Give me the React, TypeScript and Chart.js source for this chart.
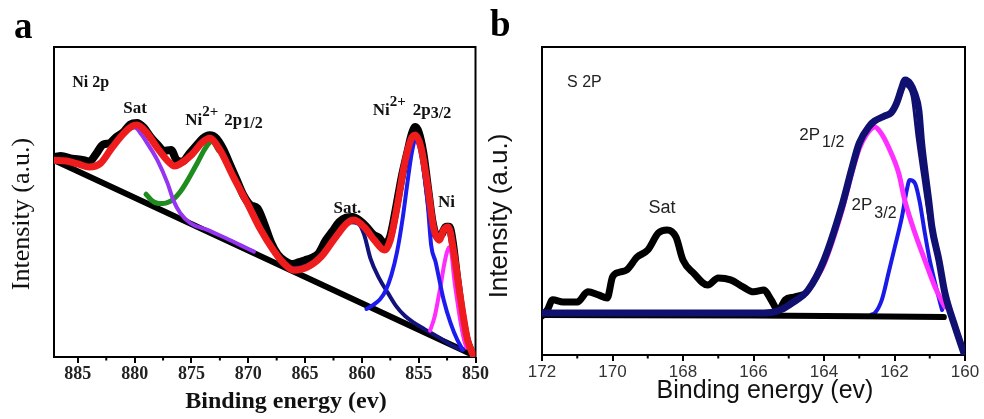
import React, { useEffect, useRef } from 'react';
import { Chart, registerables } from 'chart.js';
Chart.register(...registerables);

type Pt = [number, number];

// ---------- Panel a : Ni 2p ----------
const ticksA = [885, 880, 875, 870, 865, 860, 855, 850];
const minorA = [882.5, 877.5, 872.5, 867.5, 862.5, 857.5, 852.5];

const bgA: Pt[] = [[887.1, 63.5], [850.3, 0.8]];
const rawA: Pt[] = [
  [887.1, 64.5], [886.5, 64.8], [885.5, 64], [884.5, 63.5], [884, 63], [883.4, 65.5], [882.8, 68.5],
  [882.2, 69], [881.6, 71], [881, 72.5], [880.4, 75], [879.8, 75.5], [879.2, 74], [878.6, 71],
  [878, 68.5], [877.4, 66.5], [876.8, 66.8], [876.3, 63.5], [875.8, 63], [875.2, 65.5], [874.5, 68.5],
  [874, 70.5], [873.4, 71.5], [872.8, 70.5], [872.2, 67], [871.6, 62], [871, 57], [870.4, 52],
  [869.8, 49], [869.2, 48], [868.6, 43], [868, 37], [867.4, 33], [866.8, 31], [866.2, 30],
  [865.6, 30.5], [865, 31.2], [864.4, 32], [863.8, 33.5], [863.2, 37.5], [862.6, 40.5], [862, 43.5],
  [861.4, 45], [860.8, 45.2], [860.2, 44], [859.6, 42], [859, 39.5], [858.5, 38.5], [858, 36.5],
  [857.5, 39], [857, 48], [856.5, 58], [856, 66], [855.6, 72], [855.3, 74.2], [855, 72.5],
  [854.6, 66], [854.2, 55], [853.8, 44], [853.4, 39], [853, 39.5], [852.6, 42], [852.3, 42],
  [852, 37], [851.6, 25], [851.2, 14], [850.8, 6], [850.3, 1],
];
const fitA: Pt[] = [
  [887.1, 63.5], [886, 63.2], [885, 62.3], [884, 61.3], [883, 62.5], [882, 67.5], [881, 72],
  [880.3, 74.3], [879.8, 74.8], [879, 72.6], [878, 67.4], [877, 62.9], [876.5, 61.6], [876, 62.3],
  [875, 65.2], [874, 69.4], [873.4, 70.6], [872.5, 66.8], [871.3, 58], [870.1, 49.7], [868.9, 41],
  [867.8, 34.5], [866.9, 30.3], [866, 28], [864.8, 29], [863.6, 32.3], [862.5, 37.7], [861.3, 43.2],
  [860.7, 44.2], [859.8, 41.9], [858.9, 37.7], [858.0, 34.5], [857.5, 37.7], [856.9, 48.4],
  [856.3, 61.3], [855.7, 70], [855.3, 71.6], [854.8, 67.7], [854.2, 54.8], [853.7, 41.9],
  [853.2, 37.7], [852.8, 41], [852.4, 41.9], [851.9, 33.5], [851.3, 18.4], [850.7, 5.5], [850.2, 0.6],
];
const satA: Pt[] = [
  [880.4, 73.8], [880.0, 74.0], [879.4, 71.8], [878.9, 69], [878.0, 63.5], [877.1, 56],
  [876.6, 50.6], [876.0, 46.5], [875.1, 43.2], [873.6, 41], [872.2, 38.7], [870.7, 36.1], [869.5, 34],
];
const p12A: Pt[] = [
  [879.0, 52.5], [878.5, 50.5], [878, 49.6], [877.5, 49.5], [877, 50.0], [876.5, 51.2], [876, 53.2],
  [875.5, 56], [875, 59.2], [874.5, 62.5], [874, 66], [873.5, 68.8], [873.2, 69.5], [872.6, 66.5],
];
const sat2A: Pt[] = [
  [866.5, 28.6], [865, 29.3], [864, 31.5], [863, 35.5], [862, 40.5], [861, 43.5], [860.3, 43],
  [859.8, 39.5], [859.25, 31.8], [858.5, 25.5], [857.7, 20.6], [857, 16.5], [856.2, 13.2],
  [855.4, 11], [854.5, 9], [853.3, 6.5], [852.3, 4.2], [851.3, 2.3],
];
const p32A: Pt[] = [
  [859.6, 15.5], [859, 16.8], [858.4, 18.6], [857.9, 21.5], [857.4, 26.5], [856.9, 34], [856.4, 45],
  [856, 56], [855.6, 66], [855.3, 70], [855, 68.5], [854.6, 61], [854.2, 49], [853.9, 36],
  [853.5, 30.5], [853.3, 27], [852.8, 18.4], [852.2, 11], [851.6, 5.5], [851.1, 2.3],
];
const niA: Pt[] = [
  [854.0, 8.5], [853.6, 13], [853.3, 18.4], [853.0, 24.5], [852.8, 29], [852.5, 34], [852.3, 35.5],
  [852.1, 33], [851.9, 26], [851.6, 18], [851.3, 11], [851.0, 5.5], [850.8, 3],
];

// ---------- Panel b : S 2p ----------
const ticksB = [172, 170, 168, 166, 164, 162, 160];
const minorB = [171, 169, 167, 165, 163, 161];

const bgB: Pt[] = [[172, 13.0], [166, 12.8], [163, 12.6], [160.6, 12.3]];
const rawB: Pt[] = [
  [172.0, 12.7], [171.85, 14.6], [171.7, 17.9], [171.4, 17.2], [171.0, 17.2], [170.7, 20.5],
  [170.4, 19.5], [170.15, 18.5], [170.0, 25.3], [169.8, 26.9], [169.6, 27.6], [169.3, 31.8],
  [169.0, 34.1], [168.7, 39.6], [168.45, 40.6], [168.2, 38.3], [168.0, 30.8], [167.7, 26.6],
  [167.3, 22.7], [167.0, 25.0], [166.65, 24.4], [166.3, 22.1], [166.0, 20.5], [165.7, 21.1],
  [165.5, 17.9], [165.3, 14.6], [165.1, 17.9], [164.85, 18.8], [164.6, 19.5],
];
const fitB: Pt[] = [
  [172, 13.6], [169, 13.6], [166, 13.6], [165.5, 13.8], [165.2, 14.8], [164.9, 16.9], [164.45, 21.1],
  [164.0, 30.8], [163.5, 48.1], [163.2, 61.0], [163.0, 68.8], [162.7, 74.5], [162.56, 76.0],
  [162.3, 77.5], [162.1, 78.6], [161.94, 81.8], [161.8, 86.5], [161.7, 89.3], [161.55, 88],
  [161.43, 85], [161.31, 79.5], [161.23, 68.8], [161.14, 60], [161.03, 50.3], [160.94, 41.6],
  [160.74, 30.8], [160.57, 20.1], [160.28, 9.1], [160.03, 0.6],
];
const innerB: Pt[] = [
  [161.7, 88], [161.5, 84], [161.35, 70], [161.2, 58], [161.03, 45], [160.85, 35], [160.74, 28.5],
  [160.5, 17], [160.3, 10],
];
const p12B: Pt[] = [
  [164.5, 20], [164, 29.5], [163.5, 46.5], [163.2, 59.5], [163, 67], [162.8, 71.5], [162.56, 74],
  [162.35, 71.5], [162.17, 67.5], [161.88, 59], [161.71, 50.3], [161.42, 39.6], [161.14, 30.8],
  [160.85, 22.1], [160.57, 15.6],
];
const p32B: Pt[] = [
  [162.65, 13.2], [162.56, 13.6], [162.36, 17.9], [162.17, 26.6], [161.99, 35.1], [161.79, 44.8],
  [161.65, 53.6], [161.57, 56.8], [161.42, 55.8], [161.28, 49.4], [161.14, 39.6], [161.0, 30.8],
  [160.85, 23.4], [160.65, 14.6],
];

const SERIF = '"Liberation Serif", "Times New Roman", serif';
const SANS = '"Liberation Sans", Arial, sans-serif';

type Part = { t: string; size: number; dy?: number; dx?: number };
type Note = { e: number; v: number; parts: Part[] };

const notesA: Note[] = [
  { e: 885.5, v: 87.1, parts: [{ t: 'Ni 2p', size: 16 }] },
  { e: 881.0, v: 78.7, parts: [{ t: 'Sat', size: 17 }] },
  { e: 875.55, v: 74.8, parts: [{ t: 'Ni', size: 17 }, { t: '2+', size: 15, dy: -9 }, { t: '2p', size: 17, dx: 6 }, { t: '1/2', size: 16, dy: 3 }] },
  { e: 859.05, v: 78.1, parts: [{ t: 'Ni', size: 17 }, { t: '2+', size: 15, dy: -9 }, { t: '2p', size: 17, dx: 7 }, { t: '3/2', size: 16, dy: 3 }] },
  { e: 862.5, v: 46.5, parts: [{ t: 'Sat.', size: 17 }] },
  { e: 853.3, v: 48.4, parts: [{ t: 'Ni', size: 17 }] },
];
const notesB: Note[] = [
  { e: 171.29, v: 87.0, parts: [{ t: 'S 2P', size: 16 }] },
  { e: 168.98, v: 46.1, parts: [{ t: 'Sat', size: 18 }] },
  { e: 164.7, v: 69.8, parts: [{ t: '2P', size: 17 }, { t: '1/2', size: 16, dy: 7, dx: 2 }] },
  { e: 163.22, v: 47.1, parts: [{ t: '2P', size: 17 }, { t: '3/2', size: 16, dy: 8, dx: 2 }] },
];

type Cfg = {
  min: number; max: number; ticks: number[]; minor: number[];
  family: string; tickWeight: string; tickSize: number; tickColor: string;
  padLeft: number; padRight: number; axisH: number; tickPad: number;
  xTitle: { t: string; x: number; y: number; font: string };
  yTitle: { t: string; x: number; y: number; font: string };
  letter: { t: string; x: number; y: number };
  notes: Note[]; noteWeight: string; noteColor: string;
  series: { data: Pt[]; color: string; width: number; order: number; tension?: number }[];
};

function decoPlugin(cfg: Cfg) {
  return {
    id: 'deco',
    beforeDatasetsDraw(chart: any) {
      const { ctx, chartArea: a } = chart;
      ctx.save();
      ctx.strokeStyle = '#000';
      ctx.lineWidth = 2;
      ctx.strokeRect(a.left, a.top, a.right - a.left, a.bottom - a.top);
      ctx.restore();
    },
    afterDraw(chart: any) {
      const { ctx, chartArea: a } = chart;
      const xs = chart.scales.x;
      const ys = chart.scales.y;
      ctx.save();
      ctx.strokeStyle = '#000';
      ctx.lineWidth = 2;
      for (const m of cfg.minor) {
        const px = xs.getPixelForValue(m);
        ctx.beginPath();
        ctx.moveTo(px, a.bottom);
        ctx.lineTo(px, a.bottom + 3.5);
        ctx.stroke();
      }
      ctx.fillStyle = cfg.noteColor;
      ctx.textBaseline = 'alphabetic';
      ctx.textAlign = 'left';
      for (const n of cfg.notes) {
        let cx = xs.getPixelForValue(n.e);
        const cy = ys.getPixelForValue(n.v);
        for (const p of n.parts) {
          cx += p.dx || 0;
          ctx.font = `${cfg.noteWeight} ${p.size}px ${cfg.family}`;
          ctx.fillText(p.t, cx, cy + (p.dy || 0));
          cx += ctx.measureText(p.t).width;
        }
      }
      ctx.fillStyle = '#111';
      ctx.textAlign = 'center';
      ctx.font = cfg.xTitle.font;
      ctx.fillText(cfg.xTitle.t, cfg.xTitle.x, cfg.xTitle.y);
      ctx.save();
      ctx.translate(cfg.yTitle.x, cfg.yTitle.y);
      ctx.rotate(-Math.PI / 2);
      ctx.textBaseline = 'middle';
      ctx.font = cfg.yTitle.font;
      ctx.fillText(cfg.yTitle.t, 0, 0);
      ctx.restore();
      ctx.fillStyle = '#000';
      ctx.textAlign = 'left';
      ctx.textBaseline = 'alphabetic';
      ctx.font = `bold 37px ${SERIF}`;
      ctx.fillText(cfg.letter.t, cfg.letter.x, cfg.letter.y);
      ctx.restore();
    },
  };
}

function Panel({ cfg, left, width }: { cfg: Cfg; left: number; width: number }) {
  const ref = useRef<HTMLCanvasElement>(null);
  useEffect(() => {
    const chart = new Chart(ref.current as HTMLCanvasElement, {
      type: 'line',
      data: {
        datasets: cfg.series.map((s) => ({
          data: s.data.map(([x, y]) => ({ x, y })),
          borderColor: s.color,
          backgroundColor: s.color,
          borderWidth: s.width,
          pointRadius: 0,
          fill: false,
          tension: s.tension ?? 0.4,
          cubicInterpolationMode: 'monotone',
          borderCapStyle: 'round',
          borderJoinStyle: 'round',
          order: s.order,
        })) as any,
      },
      options: {
        responsive: false,
        animation: false,
        devicePixelRatio: 1,
        events: [],
        layout: { padding: { left: cfg.padLeft, right: cfg.padRight, top: 47, bottom: 0 } },
        plugins: { legend: { display: false }, tooltip: { enabled: false } },
        scales: {
          x: {
            type: 'linear',
            min: cfg.min,
            max: cfg.max,
            reverse: true,
            afterBuildTicks: (s: any) => {
              s.ticks = cfg.ticks.map((value) => ({ value }));
            },
            afterFit: (s: any) => {
              s.height = cfg.axisH;
            },
            grid: { display: true, drawOnChartArea: false, drawTicks: true, tickLength: 6, color: '#000', lineWidth: 2 },
            border: { display: false },
            ticks: {
              autoSkip: false,
              maxRotation: 0,
              padding: cfg.tickPad,
              color: cfg.tickColor,
              font: { family: cfg.family, size: cfg.tickSize, weight: cfg.tickWeight as any },
              callback: (v: any) => String(v),
            },
          },
          y: { type: 'linear', display: false, min: 0, max: 100 },
        },
      },
      plugins: [decoPlugin(cfg)],
    });
    return () => chart.destroy();
  }, []);
  return (
    <canvas
      ref={ref}
      width={width}
      height={419}
      style={{ position: 'absolute', left, top: 0, width, height: 419 }}
    />
  );
}

const cfgA: Cfg = {
  min: 850, max: 887.1, ticks: ticksA, minor: minorA,
  family: SERIF, tickWeight: 'bold', tickSize: 18, tickColor: '#222',
  padLeft: 54, padRight: 13, axisH: 62, tickPad: 1,
  xTitle: { t: 'Binding energy (ev)', x: 286, y: 408, font: `bold 24px ${SERIF}` },
  yTitle: { t: 'Intensity (a.u.)', x: 22, y: 214, font: `26px ${SERIF}` },
  letter: { t: 'a', x: 14, y: 38 },
  notes: notesA, noteWeight: 'bold', noteColor: '#111',
  series: [
    { data: bgA, color: '#000000', width: 6, order: 9, tension: 0 },
    { data: rawA, color: '#000000', width: 8, order: 8, tension: 0.2 },
    { data: p12A, color: '#1e8c1e', width: 5, order: 6 },
    { data: satA, color: '#9535f2', width: 4, order: 5 },
    { data: sat2A, color: '#12127c', width: 4, order: 4 },
    { data: niA, color: '#ff2bff', width: 4, order: 3 },
    { data: p32A, color: '#1c1cf0', width: 4, order: 2 },
    { data: fitA, color: '#ee1c1c', width: 7, order: 1 },
  ],
};

const cfgB: Cfg = {
  min: 160, max: 172, ticks: ticksB, minor: minorB,
  family: SANS, tickWeight: 'normal', tickSize: 17, tickColor: '#333',
  padLeft: 66, padRight: 19, axisH: 64, tickPad: 1,
  xTitle: { t: 'Binding energy (ev)', x: 289, y: 398, font: `25px ${SANS}` },
  yTitle: { t: 'Intensity (a.u.)', x: 24, y: 216, font: `26px ${SANS}` },
  letter: { t: 'b', x: 14, y: 36 },
  notes: notesB, noteWeight: 'normal', noteColor: '#222',
  series: [
    { data: rawB, color: '#000000', width: 7, order: 9, tension: 0 },
    { data: p32B, color: '#1a1ae8', width: 4, order: 7 },
    { data: bgB, color: '#000000', width: 6, order: 6, tension: 0 },
    { data: p12B, color: '#ff30ff', width: 5, order: 5 },
    { data: innerB, color: '#101070', width: 3, order: 3 },
    { data: fitB, color: '#101070', width: 7, order: 2 },
  ],
};

export default function App() {
  return (
    <div style={{ position: 'fixed', left: 0, top: 0, width: 984, height: 419, background: '#fff', overflow: 'hidden' }}>
      <Panel cfg={cfgA} left={0} width={490} />
      <Panel cfg={cfgB} left={476} width={508} />
    </div>
  );
}
